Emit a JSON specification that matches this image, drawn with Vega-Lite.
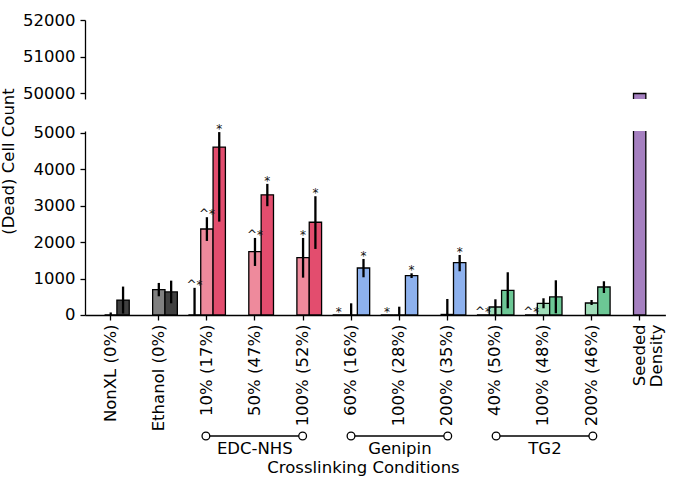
{
  "$schema": "https://vega.github.io/schema/vega-lite/v6.json",
  "padding": {"left": 0, "top": 12, "right": 5, "bottom": 0},
  "config": {
    "font": "DejaVu Sans",
    "view": {"stroke": null},
    "axis": {
      "labelFont": "DejaVu Sans", "labelFontSize": 16.5, "labelColor": "black",
      "titleFont": "DejaVu Sans", "titleFontSize": 16.5, "titleFontWeight": "normal", "titleColor": "black",
      "domainColor": "black", "tickColor": "black", "domainWidth": 1.3, "tickWidth": 1.3, "tickSize": 5, "grid": false
    }
  },
  "datasets": {
    "bars": [
      {"cond": "NonXL (0%)", "series": "B", "shade": "Control light", "value": 0, "lo": 0, "hi": 70, "mark": ""},
      {"cond": "NonXL (0%)", "series": "C", "shade": "Control dark", "value": 410, "lo": 40, "hi": 780, "mark": ""},
      {"cond": "Ethanol (0%)", "series": "B", "shade": "Control light", "value": 695, "lo": 514, "hi": 880, "mark": ""},
      {"cond": "Ethanol (0%)", "series": "C", "shade": "Control dark", "value": 632, "lo": 321, "hi": 943, "mark": ""},
      {"cond": "10% (17%)", "series": "A", "shade": "EDC-NHS light", "value": 0, "lo": 0, "hi": 745, "mark": "^*"},
      {"cond": "10% (17%)", "series": "B", "shade": "EDC-NHS light", "value": 2360, "lo": 2033, "hi": 2684, "mark": "^*"},
      {"cond": "10% (17%)", "series": "C", "shade": "EDC-NHS dark", "value": 4610, "lo": 2563, "hi": 5020, "mark": "*"},
      {"cond": "50% (47%)", "series": "B", "shade": "EDC-NHS light", "value": 1740, "lo": 1346, "hi": 2115, "mark": "^*"},
      {"cond": "50% (47%)", "series": "C", "shade": "EDC-NHS dark", "value": 3297, "lo": 2986, "hi": 3599, "mark": "*"},
      {"cond": "100% (52%)", "series": "B", "shade": "EDC-NHS light", "value": 1575, "lo": 1025, "hi": 2115, "mark": "*"},
      {"cond": "100% (52%)", "series": "C", "shade": "EDC-NHS dark", "value": 2546, "lo": 1813, "hi": 3260, "mark": "*"},
      {"cond": "60% (16%)", "series": "A", "shade": "Genipin light", "value": 0, "lo": 0, "hi": 0, "mark": "*"},
      {"cond": "60% (16%)", "series": "B", "shade": "Genipin light", "value": 0, "lo": 0, "hi": 321, "mark": ""},
      {"cond": "60% (16%)", "series": "C", "shade": "Genipin dark", "value": 1290, "lo": 1035, "hi": 1538, "mark": "*"},
      {"cond": "100% (28%)", "series": "A", "shade": "Genipin light", "value": 0, "lo": 0, "hi": 0, "mark": "*"},
      {"cond": "100% (28%)", "series": "B", "shade": "Genipin light", "value": 0, "lo": 0, "hi": 228, "mark": ""},
      {"cond": "100% (28%)", "series": "C", "shade": "Genipin dark", "value": 1080, "lo": 1016, "hi": 1145, "mark": "*"},
      {"cond": "200% (35%)", "series": "B", "shade": "Genipin light", "value": 15, "lo": 0, "hi": 440, "mark": ""},
      {"cond": "200% (35%)", "series": "C", "shade": "Genipin dark", "value": 1437, "lo": 1200, "hi": 1648, "mark": "*"},
      {"cond": "40% (50%)", "series": "A", "shade": "TG2 light", "value": 0, "lo": 0, "hi": 0, "mark": "^*"},
      {"cond": "40% (50%)", "series": "B", "shade": "TG2 light", "value": 220, "lo": 0, "hi": 431, "mark": ""},
      {"cond": "40% (50%)", "series": "C", "shade": "TG2 dark", "value": 678, "lo": 184, "hi": 1173, "mark": ""},
      {"cond": "100% (48%)", "series": "A", "shade": "TG2 light", "value": 0, "lo": 0, "hi": 0, "mark": "^*"},
      {"cond": "100% (48%)", "series": "B", "shade": "TG2 light", "value": 321, "lo": 184, "hi": 459, "mark": ""},
      {"cond": "100% (48%)", "series": "C", "shade": "TG2 dark", "value": 495, "lo": 47, "hi": 953, "mark": ""},
      {"cond": "200% (46%)", "series": "B", "shade": "TG2 light", "value": 330, "lo": 275, "hi": 412, "mark": ""},
      {"cond": "200% (46%)", "series": "C", "shade": "TG2 dark", "value": 769, "lo": 604, "hi": 926, "mark": ""},
      {"cond": "Seeded Density", "series": "B", "shade": "Seeded", "value": 50000, "lo": 50000, "hi": 50000, "mark": ""}
    ],
    "ends": [
      {"group": "EDC-NHS", "cond": "10% (17%)"},
      {"group": "EDC-NHS", "cond": "100% (52%)"},
      {"group": "Genipin", "cond": "60% (16%)"},
      {"group": "Genipin", "cond": "200% (35%)"},
      {"group": "TG2", "cond": "40% (50%)"},
      {"group": "TG2", "cond": "200% (46%)"}
    ]
  },
  "spacing": 32,
  "bounds": "flush",
  "vconcat": [
    {
      "width": 580.4,
      "height": 79,
      "data": {"name": "bars"},
      "transform": [{"filter": "datum.value > 40000"}],
      "mark": {"type": "bar", "clip": true, "stroke": "black", "strokeWidth": 1.3},
      "encoding": {
        "x": {"field": "cond", "type": "nominal", "sort": null,
              "scale": {"domain": ["NonXL (0%)", "Ethanol (0%)", "10% (17%)", "50% (47%)", "100% (52%)", "60% (16%)", "100% (28%)", "200% (35%)", "40% (50%)", "100% (48%)", "200% (46%)", "Seeded Density"], "paddingInner": 0.23, "paddingOuter": 0.15},
              "axis": null},
        "xOffset": {"field": "series", "type": "nominal", "scale": {"domain": ["A", "B", "C"], "paddingInner": 0, "paddingOuter": 0}},
        "y": {"field": "value", "type": "quantitative",
              "scale": {"domain": [49850, 52000], "nice": false, "zero": false},
              "axis": {"values": [50000, 51000, 52000], "format": "d", "title": null, "labelPadding": 5}},
        "color": {"field": "shade", "type": "nominal", "legend": null,
                  "scale": {"domain": ["Control light", "Control dark", "EDC-NHS light", "EDC-NHS dark", "Genipin light", "Genipin dark", "TG2 light", "TG2 dark", "Seeded"],
                            "range": ["#808080", "#404040", "#ee8a9c", "#e34d6e", "#b8cff5", "#8db1ee", "#a0dcb8", "#6cc795", "#a580c0"]}}
      }
    },
    {
      "width": 580.4,
      "height": 184,
      "data": {"name": "bars"},
      "encoding": {
        "x": {"field": "cond", "type": "nominal", "sort": null,
              "scale": {"domain": ["NonXL (0%)", "Ethanol (0%)", "10% (17%)", "50% (47%)", "100% (52%)", "60% (16%)", "100% (28%)", "200% (35%)", "40% (50%)", "100% (48%)", "200% (46%)", "Seeded Density"], "paddingInner": 0.23, "paddingOuter": 0.15},
              "axis": {"title": null, "labelAngle": -90, "labelPadding": 4, "labelOverlap": false, "labelLineHeight": 17.5,
                       "labelExpr": "datum.value == 'Seeded Density' ? ['Seeded', 'Density'] : datum.value"}},
        "xOffset": {"field": "series", "type": "nominal", "scale": {"domain": ["A", "B", "C"], "paddingInner": 0, "paddingOuter": 0}}
      },
      "layer": [
        {
          "mark": {"type": "bar", "clip": true, "stroke": "black", "strokeWidth": 1.3},
          "encoding": {
            "y": {"field": "value", "type": "quantitative",
                  "scale": {"domain": [0, 5050], "nice": false},
                  "axis": {"values": [0, 1000, 2000, 3000, 4000, 5000], "format": "d", "title": "(Dead) Cell Count", "titleX": -68, "titleY": 30, "labelPadding": 5}},
            "color": {"field": "shade", "type": "nominal", "legend": null,
                      "scale": {"domain": ["Control light", "Control dark", "EDC-NHS light", "EDC-NHS dark", "Genipin light", "Genipin dark", "TG2 light", "TG2 dark", "Seeded"],
                                "range": ["#808080", "#404040", "#ee8a9c", "#e34d6e", "#b8cff5", "#8db1ee", "#a0dcb8", "#6cc795", "#a580c0"]}}
          }
        },
        {
          "transform": [{"filter": "datum.hi > datum.lo"}],
          "mark": {"type": "rule", "color": "black", "strokeWidth": 2.3},
          "encoding": {
            "y": {"field": "lo", "type": "quantitative",
                  "axis": {"values": [0, 1000, 2000, 3000, 4000, 5000], "format": "d", "title": "(Dead) Cell Count", "titleX": -68, "titleY": 30, "labelPadding": 5}},
            "y2": {"field": "hi"}
          }
        },
        {
          "transform": [{"filter": "datum.mark != ''"}],
          "mark": {"type": "text", "fontSize": 12, "color": "#111111", "baseline": "alphabetic", "dy": 1},
          "encoding": {
            "y": {"field": "hi", "type": "quantitative",
                  "axis": {"values": [0, 1000, 2000, 3000, 4000, 5000], "format": "d", "title": "(Dead) Cell Count", "titleX": -68, "titleY": 30, "labelPadding": 5}},
            "text": {"field": "mark"}
          }
        }
      ]
    },
    {
      "width": 580.4,
      "height": 89,
      "data": {"name": "ends"},
      "encoding": {
        "x": {"field": "cond", "type": "nominal", "sort": null,
              "scale": {"domain": ["NonXL (0%)", "Ethanol (0%)", "10% (17%)", "50% (47%)", "100% (52%)", "60% (16%)", "100% (28%)", "200% (35%)", "40% (50%)", "100% (48%)", "200% (46%)", "Seeded Density"], "paddingInner": 0.23, "paddingOuter": 0.15},
              "axis": {"domain": false, "ticks": false, "labelAngle": 0, "labelPadding": 5, "labelOverlap": false,
                       "labelExpr": "datum.value == '50% (47%)' ? 'EDC-NHS' : datum.value == '100% (28%)' ? 'Genipin' : datum.value == '100% (48%)' ? 'TG2' : ''",
                       "title": "Crosslinking Conditions", "titlePadding": 2, "titleX": 278}},
        "y": {"datum": 0, "type": "quantitative", "scale": {"domain": [0, 1]}, "axis": null}
      },
      "layer": [
        {"mark": {"type": "line", "color": "black", "strokeWidth": 1.3}, "encoding": {"detail": {"field": "group"}}},
        {"mark": {"type": "point", "filled": true, "fill": "white", "stroke": "black", "strokeWidth": 1.3, "size": 60, "opacity": 1}}
      ]
    }
  ]
}
